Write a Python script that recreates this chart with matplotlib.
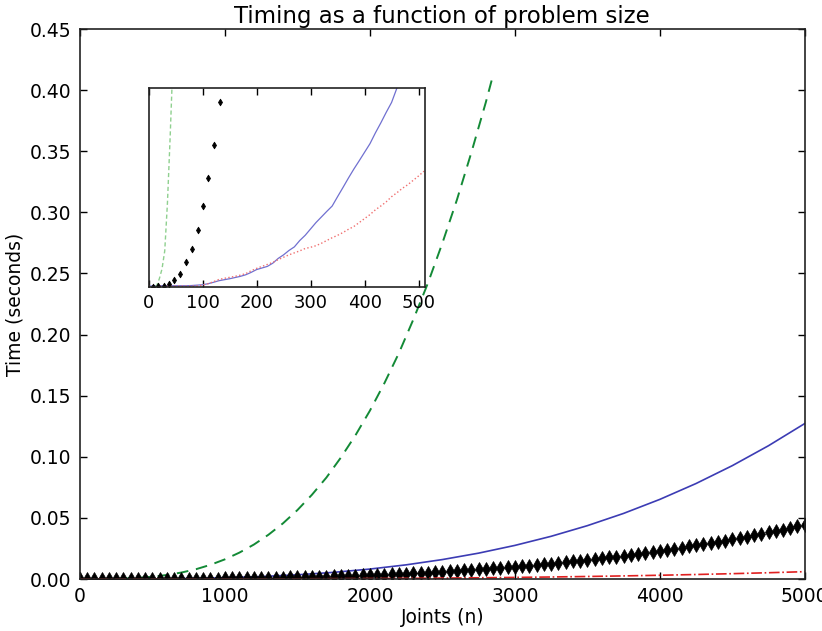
import numpy as np
import matplotlib
matplotlib.use("Agg")
import matplotlib.pyplot as plt
from matplotlib.ticker import StrMethodFormatter

# --- main plot data (problem size n vs. time in seconds) ---
n_blue = [0, 250, 500, 750, 1000, 1250, 1500, 1750, 2000, 2250, 2500,
          2750, 3000, 3250, 3500, 3750, 4000, 4250, 4500, 4750, 5000]
t_blue = [0.0, 0.00002, 0.00013, 0.00043, 0.00102, 0.00199, 0.00343, 0.00545,
          0.00814, 0.01159, 0.0159, 0.02116, 0.02748, 0.03493, 0.04363,
          0.05366, 0.06513, 0.07812, 0.09273, 0.10906, 0.1272]

n_green = [0, 100, 200, 300, 400, 500, 600, 700, 800, 900, 1000, 1100, 1200,
           1300, 1400, 1500, 1600, 1700, 1800, 1900, 2000, 2100, 2200, 2300,
           2400, 2500, 2600, 2700, 2800, 2850]
t_green = [0.0, 0.0, 0.0001, 0.0004, 0.0009, 0.0019, 0.0033, 0.0053, 0.0080,
           0.0116, 0.0161, 0.0216, 0.0282, 0.0362, 0.0455, 0.0564, 0.0689,
           0.0830, 0.0994, 0.1175, 0.1377, 0.1602, 0.1848, 0.2124, 0.2420,
           0.2748, 0.3101, 0.3489, 0.3901, 0.4124]

n_red = n_blue
t_red = [0.0, 0.0, 0.00001, 0.00002, 0.00005, 0.00009, 0.00016, 0.00026,
         0.00038, 0.00055, 0.00075, 0.0010, 0.0013, 0.00165, 0.00206, 0.00253,
         0.00307, 0.00368, 0.00437, 0.00514, 0.0060]

n_diamond = list(range(0, 5001, 50))
t_diamond = [
    0.0000, 0.0000, 0.0000, 0.0000, 0.0000, 0.0000, 0.0000, 0.0000, 0.0000, 0.0001,
    0.0001, 0.0001, 0.0001, 0.0001, 0.0002, 0.0002, 0.0002, 0.0003, 0.0003, 0.0004,
    0.0005, 0.0005, 0.0006, 0.0007, 0.0007, 0.0008, 0.0009, 0.0010, 0.0011, 0.0013,
    0.0014, 0.0015, 0.0017, 0.0018, 0.0020, 0.0021, 0.0023, 0.0025, 0.0027, 0.0029,
    0.0031, 0.0034, 0.0036, 0.0038, 0.0041, 0.0044, 0.0047, 0.0050, 0.0053, 0.0056,
    0.0059, 0.0063, 0.0066, 0.0070, 0.0074, 0.0078, 0.0082, 0.0086, 0.0091, 0.0095,
    0.0100, 0.0105, 0.0110, 0.0115, 0.0121, 0.0126, 0.0132, 0.0138, 0.0144, 0.0150,
    0.0156, 0.0163, 0.0170, 0.0177, 0.0184, 0.0191, 0.0199, 0.0206, 0.0214, 0.0222,
    0.0231, 0.0239, 0.0248, 0.0257, 0.0266, 0.0275, 0.0285, 0.0295, 0.0305, 0.0315,
    0.0325, 0.0336, 0.0347, 0.0358, 0.0370, 0.0381, 0.0393, 0.0405, 0.0418, 0.0430,
    0.0443]

# --- inset data (small n, times in microseconds; inset has no y scale) ---
n_in_blue = list(range(0, 471, 10))
t_in_blue = [0.3, 0.5, 0.5, 0.5, 0.5, 0.5, 0.5, 0.5, 0.6, 0.8,
             1.0, 1.5, 2.2, 3.0, 3.5, 4.0, 4.6, 5.2, 6.0, 7.2,
             8.6, 9.4, 10.2, 11.8, 14.2, 16.0, 18.2, 20.0, 23.2, 25.8,
             29.0, 32.2, 35.0, 37.8, 40.5, 45.2, 49.8, 54.5, 59.0, 63.2,
             67.5, 71.8, 77.2, 82.2, 87.5, 92.5, 99.8, 107.0]

n_in_red = list(range(0, 511, 10))
t_in_red = [0.3, 0.3, 0.3, 0.3, 0.3, 0.3, 0.3, 0.3, 0.3, 0.4,
            0.8, 1.5, 2.5, 3.6, 4.2, 4.7, 5.2, 5.8, 6.6, 8.0,
            9.2, 10.2, 11.2, 12.2, 13.6, 14.8, 16.0, 17.0, 18.0, 19.2,
            19.8, 20.6, 21.8, 23.2, 24.6, 25.8, 27.2, 28.8, 30.2, 32.2,
            34.2, 36.2, 38.6, 40.5, 42.6, 45.2, 47.2, 49.4, 51.2, 53.4,
            55.6, 58.0]

n_in_green = [0, 5, 10, 15, 20, 25, 30, 35, 40, 45]
t_in_green = [0.0, 0.0, 0.0, 0.5, 4.0, 9.0, 18.0, 42.0, 75.0, 112.0]

n_in_diamond = [8, 18, 28, 38, 48, 58, 69, 80, 91, 101, 111, 122, 132]
t_in_diamond = [0.0, 0.2, 0.5, 1.4, 3.4, 6.5, 12.2, 18.8, 28.5, 40.5,
                54.7, 71.0, 92.9]

BLUE = "#3c3cb4"
GREEN = "#138a36"
RED = "#e02020"

fig = plt.figure(figsize=(8.22, 6.31), dpi=100)
ax = fig.add_axes([0.0973, 0.0824, 0.8817, 0.8716])

ax.plot(n_blue, t_blue, "-", color=BLUE, lw=1.2)
ax.plot(n_green, t_green, "--", color=GREEN, lw=1.4, dashes=(6, 4))
ax.plot(n_diamond, t_diamond, "d", color="k", ms=7.2, mew=0.5, mec="k")
ax.plot(n_red, t_red, "-.", color=RED, lw=1.2)

ax.set_xlim(0, 5000)
ax.set_ylim(0, 0.45)
ax.set_xticks(range(0, 5001, 1000))
ax.set_yticks(np.arange(0, 0.451, 0.05))
ax.yaxis.set_major_formatter(StrMethodFormatter("{x:.2f}"))
ax.tick_params(direction="in", top=True, right=True, length=5, width=1,
               labelsize=13.5, pad=6)
for s in ax.spines.values():
    s.set_linewidth(1.2)
    s.set_color("#222222")
ax.set_xlabel("Joints (n)", fontsize=13.5, labelpad=1)
ax.set_ylabel("Time (seconds)", fontsize=13.5, labelpad=4)
ax.set_title("Timing as a function of problem size", fontsize=16.5, pad=4)

# inset with the small problem sizes
ins = fig.add_axes([0.1807, 0.5456, 0.3364, 0.3157])
ins.plot(n_in_blue, t_in_blue, "-", color="#7070d0", lw=0.9)
ins.plot(n_in_red, t_in_red, ":", color="#f07070", lw=1.0)
ins.plot(n_in_green, t_in_green, "--", color="#8fd08f", lw=1.0, dashes=(3, 2))
ins.plot(n_in_diamond, t_in_diamond, "d", color="k", ms=3.5, mew=0.5)
ins.set_xlim(0, 512)
ins.set_ylim(0, 100)
ins.set_xticks(range(0, 501, 100))
ins.set_yticks([])
ins.tick_params(direction="in", top=True, length=5, width=1,
                labelsize=13, pad=5)
for s in ins.spines.values():
    s.set_linewidth(1.2)
    s.set_color("#222222")

fig.savefig("out.png", dpi=100)
